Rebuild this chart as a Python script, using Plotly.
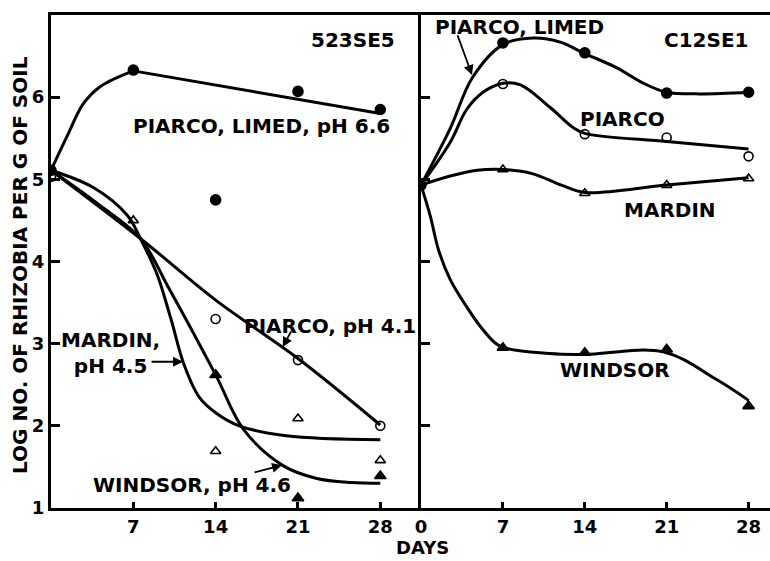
import plotly.graph_objects as go

# ---------------- data: strain 523SE5 (left panel) ----------------
obs_days_L = [0, 7, 14, 21, 28]
limed66_obs = [5.11, 6.33, 4.75, 6.07, 5.85]
piarco41_days = [0, 14, 21, 28]
piarco41_obs = [5.03, 3.30, 2.80, 2.00]
mardin45_days = [7, 14, 21, 28]
mardin45_obs = [4.50, 1.69, 2.09, 1.58]
windsor46_days = [14, 21, 28]
windsor46_obs = [2.62, 1.12, 1.39]

# hand-drawn fitted curves
limed66_arc_days = [0, 1.35, 2.75, 4.2, 7]
limed66_arc_vals = [5.11, 5.52, 5.92, 6.13, 6.32]
limed66_line_days = [7, 28]
limed66_line_vals = [6.32, 5.80]
piarco41_fit_days = [0, 7.6, 14, 21, 28]
piarco41_fit_vals = [5.11, 4.28, 3.53, 2.82, 2.01]
mardin45_fit_days = [0, 3.6, 6.5, 7.6, 9.0, 10.2, 11.3, 12.6, 14, 16, 20, 28]
mardin45_fit_vals = [5.11, 4.90, 4.56, 4.28, 3.85, 3.30, 2.75, 2.35, 2.16, 2.00, 1.88, 1.83]
windsor46_fit_days = [0, 4, 7.6, 10, 14, 16.4, 19.8, 22.6, 25.5, 28]
windsor46_fit_vals = [5.11, 4.70, 4.28, 3.68, 2.62, 1.95, 1.51, 1.36, 1.31, 1.30]

# ---------------- data: strain C12SE1 (right panel) ----------------
obs_days_R = [0, 7, 14, 21, 28]
limed_obs_R = [4.93, 6.66, 6.54, 6.05, 6.06]
piarco_days_R = [7, 14, 21, 28]
piarco_obs_R = [6.16, 5.55, 5.51, 5.28]
mardin_days_R = [7, 14, 21, 28]
mardin_obs_R = [5.12, 4.83, 4.93, 5.01]
windsor_days_R = [7, 14, 21, 28]
windsor_obs_R = [2.95, 2.89, 2.93, 2.24]

limed_fit_days_R = [0, 2.5, 4.4, 7, 9.6, 11.9, 14, 16.7, 19, 21, 23.8, 28]
limed_fit_vals_R = [4.93, 5.62, 6.24, 6.64, 6.72, 6.67, 6.53, 6.36, 6.17, 6.06, 6.04, 6.06]
piarco_fit_days_R = [0, 2.5, 3.9, 5.3, 7, 8.5, 11, 13, 14, 21, 28]
piarco_fit_vals_R = [4.93, 5.45, 5.85, 6.06, 6.17, 6.15, 5.88, 5.63, 5.56, 5.46, 5.37]
mardin_fit_days_R = [0, 2.5, 4.8, 7, 9.5, 12, 14, 21, 28]
mardin_fit_vals_R = [4.93, 5.04, 5.11, 5.12, 5.07, 4.93, 4.84, 4.93, 5.02]
windsor_fit_days_R = [0, 0.8, 1.5, 2.5, 3.9, 5.3, 6.75, 11, 14, 20.7, 25.3, 28]
windsor_fit_vals_R = [4.93, 4.55, 4.14, 3.78, 3.45, 3.17, 2.97, 2.88, 2.87, 2.90, 2.56, 2.31]

x_ticks_L = [7, 14, 21, 28]
x_ticks_R = [0, 7, 14, 21, 28]
y_ticks = [1, 2, 3, 4, 5, 6]
y_ticks_R = [2, 3, 4, 5, 6]

FONT = "DejaVu Sans"
LW = 3

fig = go.Figure()


def curve(xs, ys, ax="x", ay="y", shape="spline"):
    fig.add_trace(go.Scatter(x=xs, y=ys, mode="lines", xaxis=ax, yaxis=ay,
                             line=dict(color="black", width=LW, shape=shape, smoothing=1.0),
                             showlegend=False, hoverinfo="skip"))


def pts(xs, ys, symbol, size, ax="x", ay="y"):
    fig.add_trace(go.Scatter(x=xs, y=ys, mode="markers", xaxis=ax, yaxis=ay,
                             marker=dict(symbol=symbol, size=size, color="black",
                                         line=dict(color="black", width=1.6)),
                             showlegend=False))


# left panel curves
curve(limed66_arc_days, limed66_arc_vals)
curve(limed66_line_days, limed66_line_vals, shape="linear")
curve(piarco41_fit_days, piarco41_fit_vals)
curve(mardin45_fit_days, mardin45_fit_vals)
curve(windsor46_fit_days, windsor46_fit_vals)
# left panel points
pts(obs_days_L, limed66_obs, "circle", 10)
pts(piarco41_days, piarco41_obs, "circle-open", 9)
pts(mardin45_days, mardin45_obs, "triangle-up-open", 9)
pts(windsor46_days, windsor46_obs, "triangle-up", 10)

# right panel curves
curve(limed_fit_days_R, limed_fit_vals_R, "x2", "y2")
curve(piarco_fit_days_R, piarco_fit_vals_R, "x2", "y2")
curve(mardin_fit_days_R, mardin_fit_vals_R, "x2", "y2")
curve(windsor_fit_days_R, windsor_fit_vals_R, "x2", "y2")
# right panel points
pts(obs_days_R, limed_obs_R, "circle", 10, "x2", "y2")
pts(piarco_days_R, piarco_obs_R, "circle-open", 9, "x2", "y2")
pts(mardin_days_R, mardin_obs_R, "triangle-up-open", 9, "x2", "y2")
pts(windsor_days_R, windsor_obs_R, "triangle-up", 10, "x2", "y2")

L, T, B, W, H = 51, 15, 53, 770, 561
pw = W - L
ph = H - T - B
split = (421 - L) / pw

axis_common = dict(showgrid=False, zeroline=False, showline=True, linecolor="black",
                   linewidth=LW, ticks="inside", tickcolor="black", tickwidth=2.5,
                   automargin=False,
                   tickfont=dict(family=FONT, size=18, color="black"))

fig.update_layout(
    width=W, height=H,
    margin=dict(l=L, r=0, t=T, b=B),
    paper_bgcolor="white", plot_bgcolor="white",
    font=dict(family=FONT, size=18, color="black", weight="bold"),
    xaxis=dict(domain=[0, split], range=[0, 31.46], tickvals=x_ticks_L, ticklen=6,
               mirror=True, anchor="y", **axis_common),
    yaxis=dict(domain=[0, 1], range=[1, 7.0], tickvals=y_ticks, ticklen=9,
               mirror=False, anchor="x", **axis_common),
    xaxis2=dict(domain=[split, 1], range=[0, 29.83], tickvals=x_ticks_R, ticklen=6,
                mirror=True, anchor="y2", **axis_common),
    yaxis2=dict(domain=[0, 1], range=[1, 7.0], tickvals=y_ticks_R, ticklen=9,
                showticklabels=False, anchor="x2", **axis_common),
    showlegend=False,
)


def label(text, x, y, ax="x", ay="y", size=20, xanchor="center"):
    fig.add_annotation(text=text, x=x, y=y, xref=ax, yref=ay, showarrow=False,
                       xanchor=xanchor, yanchor="middle", align="center",
                       font=dict(family=FONT, size=size, color="black", weight="bold"))


def arrow(x0, y0, x1, y1, ax="x", ay="y"):
    fig.add_annotation(text="", x=x1, y=y1, ax=x0, ay=y0, xref=ax, yref=ay,
                       axref=ax, ayref=ay, showarrow=True, arrowhead=2,
                       arrowsize=1.1, arrowwidth=1.8, arrowcolor="black")


# left panel labels
label("523SE5", 25.7, 6.69)
label("PIARCO, LIMED, pH 6.6", 17.9, 5.65)
label("PIARCO, pH 4.1", 31.2, 3.21, xanchor="right")
arrow(20.5, 3.17, 19.7, 2.96)
label("MARDIN,<br>pH 4.5", 5.1, 2.89)
arrow(8.42, 2.78, 11.22, 2.78)
label("WINDSOR, pH 4.6", 11.95, 1.28)
arrow(17.18, 1.43, 19.64, 1.52)

# right panel labels
label("PIARCO, LIMED", 8.46, 6.86, "x2", "y2")
arrow(3.08, 6.77, 4.36, 6.27, "x2", "y2")
label("C12SE1", 24.36, 6.69, "x2", "y2")
label("PIARCO", 17.22, 5.74, "x2", "y2")
label("MARDIN", 21.24, 4.63, "x2", "y2")
label("WINDSOR", 16.58, 2.68, "x2", "y2")

# axis titles
fig.add_annotation(text="DAYS", x=(422 - L) / pw, y=(H - B - 560) / ph, xref="paper", yref="paper",
                   showarrow=False, xanchor="center", yanchor="bottom",
                   font=dict(family=FONT, size=18, color="black", weight="bold"))
fig.add_annotation(text="LOG NO. OF RHIZOBIA PER G OF SOIL", x=(20 - L) / pw, y=(H - B - 265) / ph,
                   xref="paper", yref="paper", showarrow=False, textangle=-90,
                   xanchor="center", yanchor="middle",
                   font=dict(family=FONT, size=20, color="black", weight="bold"))

fig.write_html("out.html", config={"displayModeBar": False},
               post_script="document.body.style.margin='0';document.body.style.overflow='hidden';")
